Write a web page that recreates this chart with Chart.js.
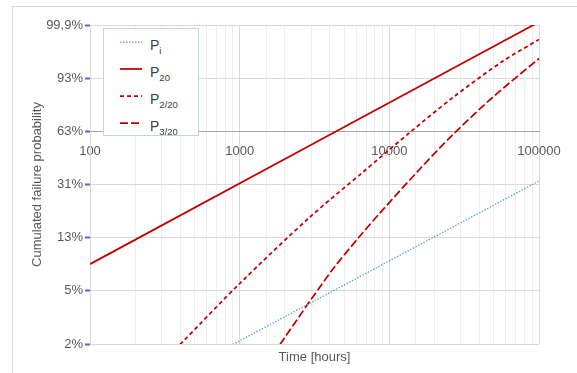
<!DOCTYPE html>
<html>
<head>
<meta charset="utf-8">
<script src="https://cdn.jsdelivr.net/npm/chart.js@4/dist/chart.umd.min.js"></script>
<style>
  body { margin: 0; background: #fff; }
  #wrap { position: relative; width: 577px; height: 373px; overflow: hidden; font-family: "Liberation Sans", Arial, sans-serif; }
  #frame { position: absolute; left: 12px; top: 6px; width: 620px; height: 420px; border-left: 1px solid #d9d9d9; border-top: 1px solid #d9d9d9; }
  #chart { position: absolute; left: 0; top: 0; }
  #legend { position: absolute; left: 103px; top: 28px; width: 96px; height: 108px; box-sizing: border-box; border: 1px solid #bdd7ee; background: #fff; }
  .lg { position: absolute; font-size: 14px; line-height: 14px; color: #404040; white-space: nowrap; }
  .lg .sub { font-size: 9.5px; vertical-align: -4px; }
  .sample { position: absolute; }
</style>
</head>
<body>
<div id="wrap">
  <div id="frame"></div>
  <canvas id="chart" width="577" height="373"></canvas>
  <div id="legend"></div>
</div>
<script>
// time in hours, cumulated failure probability in %
const piTime = [900, 100000];
const piProb = [1.8, 32.5];
const p20Time = [100, 100000];
const p20Prob = [7.9, 99.96];
const p2Time = [400, 1000, 2950, 6670, 13700, 26600, 57400, 100000];
const p2Prob = [1.8, 5.55, 18.1, 37.2, 62.4, 84.9, 97.65, 99.64];
const p3Time = [1860, 2950, 4200, 6080, 8650, 16000, 26600, 49200, 100000];
const p3Prob = [1.8, 4.03, 7.23, 12.25, 19.35, 38.9, 61.0, 85.1, 98.04];

const seriesSubs = ["i", "20", "2/20", "3/20"];
const xTickLabels = [100, 1000, 10000, 100000];
const yTickValues = [-4, -3, -2, -1, 0, 1, 2];
const yTickLabels = ["2%", "5%", "13%", "31%", "63%", "93%", "99,9%"];

const RED = "#c00000";
const BLUE = "#5b9bd5";
const TXT = "#595959";

function $(id) { return document.getElementById(id); }

// Weibull paper: ln(-ln(1-F))
function weib(p) { return Math.log(-Math.log(1 - p / 100)); }
function pts(t, p) { return t.map((x, i) => ({x: x, y: weib(p[i])})); }
function isDecade(v) { return xTickLabels.includes(v); }

const styles = [
  {color: BLUE, width: 1.25, dash: [1.5, 1.5]},
  {color: RED, width: 1.75, dash: []},
  {color: RED, width: 1.75, dash: [4, 3]},
  {color: RED, width: 1.75, dash: [8, 3]},
];
const series = [pts(piTime, piProb), pts(p20Time, p20Prob), pts(p2Time, p2Prob), pts(p3Time, p3Prob)];

const font = {family: "'Liberation Sans', Arial, sans-serif", size: 13};

new Chart($("chart"), {
  type: "line",
  data: {
    datasets: series.map((d, i) => ({
      label: "P" + seriesSubs[i],
      data: d,
      borderColor: styles[i].color,
      borderWidth: styles[i].width,
      borderDash: styles[i].dash,
      pointRadius: 0,
      fill: false,
      tension: 0.3,
    }))
  },
  options: {
    responsive: false,
    animation: false,
    layout: { padding: {left: 12, top: 25, right: 38, bottom: 8} },
    plugins: { legend: { display: false }, tooltip: { enabled: false } },
    scales: {
      x: {
        type: "logarithmic",
        min: 100, max: 100000,
        position: {y: 0},
        border: { color: "#a6a6a6", width: 1 },
        grid: {
          color: c => isDecade(c.tick.value) ? "#d9d9d9" : "#eeeeee",
          drawTicks: false,
        },
        ticks: {
          autoSkip: false, maxRotation: 0, padding: 12,
          color: TXT, font: font,
          callback: v => isDecade(v) ? String(v) : "",
        },
      },
      x2: {
        type: "logarithmic",
        min: 100, max: 100000,
        position: "bottom",
        ticks: { display: false },
        grid: { display: false, drawTicks: false },
        border: { display: false },
        title: { display: true, text: "Time [hours]", color: TXT, font: font, padding: 0 },
        afterFit: s => { s.height = 21; },
      },
      y: {
        type: "linear",
        min: -4, max: 2,
        position: "left",
        border: { color: "#d9d9d9" },
        grid: { color: "#d9d9d9", tickColor: "#4472c4", tickLength: 5, tickWidth: 2 },
        afterBuildTicks: s => { s.ticks = yTickValues.map(v => ({value: v})); },
        ticks: {
          padding: 2, color: TXT, font: font,
          callback: v => yTickLabels[yTickValues.indexOf(v)],
        },
        title: { display: true, text: "Cumulated failure probability", color: TXT, font: font, padding: {top: 18, bottom: 0} },
        afterFit: s => { s.width = 78; },
      },
    },
  },
});

// legend with subscripts
const lg = $("wrap");
seriesSubs.forEach((s, i) => {
  const y = 42 + i * 27;
  const st = styles[i];
  const svg = document.createElementNS("http://www.w3.org/2000/svg", "svg");
  svg.setAttribute("class", "sample");
  svg.setAttribute("width", 22);
  svg.setAttribute("height", 6);
  svg.style.left = "120px";
  svg.style.top = (y - 3) + "px";
  svg.innerHTML = `<line x1="0" y1="3" x2="22" y2="3" stroke="${st.color}" stroke-width="${st.width}" stroke-dasharray="${st.dash.join(" ")}"/>`;
  lg.appendChild(svg);
  const t = document.createElement("span");
  t.className = "lg";
  t.style.left = "150px";
  t.style.top = (y - 4.5) + "px";
  t.innerHTML = `P<span class="sub">${s}</span>`;
  lg.appendChild(t);
});
</script>
</body>
</html>
